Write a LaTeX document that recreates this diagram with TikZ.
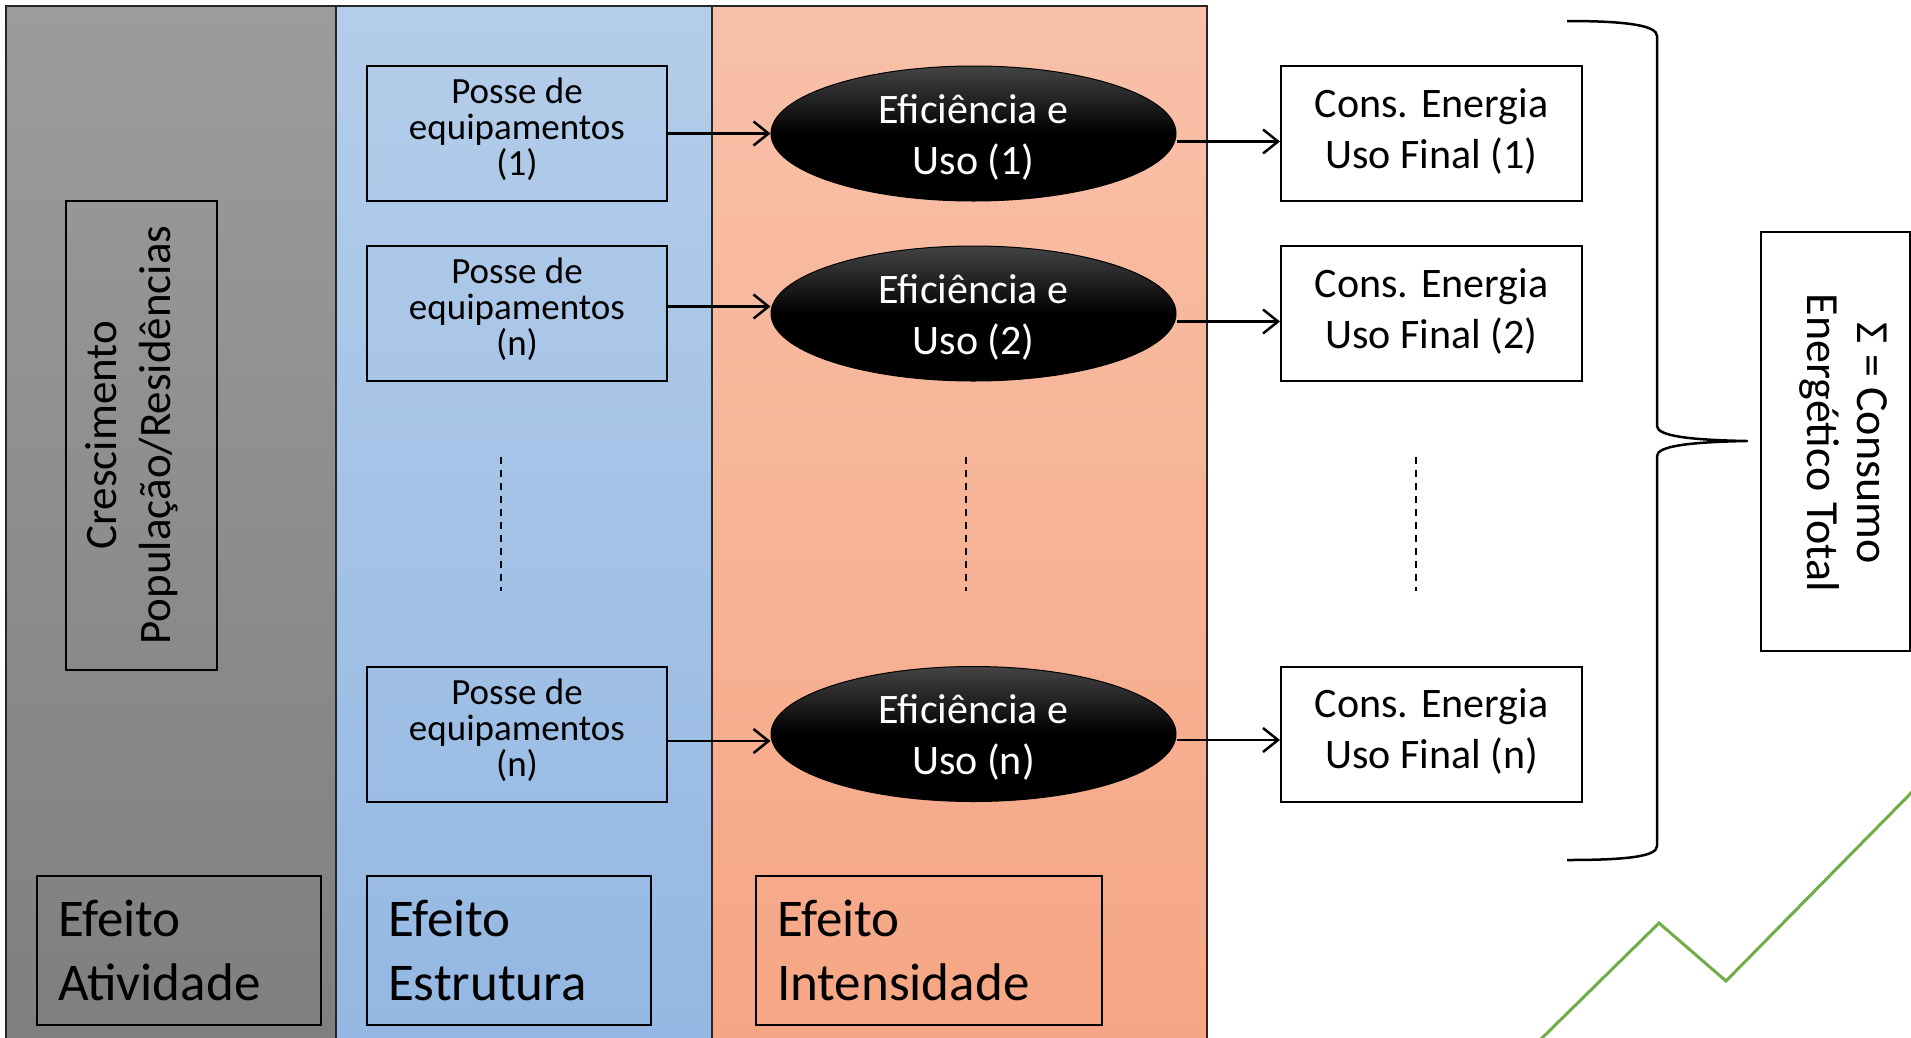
\documentclass[tikz,border=0pt]{standalone}
\usepackage{fontspec}
\setmainfont{Carlito}
\usetikzlibrary{arrows.meta,shapes.geometric}
\definecolor{grayTop}{RGB}{156,156,156}
\definecolor{grayBot}{RGB}{127,127,127}
\definecolor{blueTop}{RGB}{180,205,234}
\definecolor{blueBot}{RGB}{148,184,227}
\definecolor{oraTop}{RGB}{248,193,169}
\definecolor{oraBot}{RGB}{246,166,132}
\definecolor{effTop}{RGB}{68,68,68}
\definecolor{lineGreen}{RGB}{112,173,71}
\begin{document}
\begin{tikzpicture}[x=1pt,y=-1pt,
  panel/.style={line width=1.2pt, draw=black!85},
  box/.style={draw=black, line width=2pt, minimum width=300pt, minimum height=135pt, inner sep=0pt},
  posse/.style={box},
  cons/.style={box, minimum width=301pt, fill=white},
  eff/.style={ellipse, draw=black, line width=1pt, minimum width=405pt, minimum height=135pt, inner sep=0pt,
    top color=effTop, bottom color=black, middle color=black},
  txt/.style={inner sep=0pt, align=center},
  possetxt/.style={txt, font=\fontsize{37}{36}\selectfont},
  efftxt/.style={txt, text=white, font=\fontsize{42}{51}\selectfont},
  constxt/.style={txt, font=\fontsize{42}{51}\selectfont},
  conn/.style={line width=2.5pt, -{Straight Barb[length=15pt,width=24pt,line width=2.5pt]}},
  efeito/.style={draw=black, line width=2pt, minimum height=149pt, inner xsep=21pt, inner ysep=0pt,
    align=left, font=\fontsize{53}{64}\selectfont},
  dots/.style={line width=2.5pt, dash pattern=on 7pt off 6pt}
]
\useasboundingbox (0,0) rectangle (1911,1037);
\fill[white] (0,0) rectangle (1911,1037);

% panels
\shade[top color=grayTop, bottom color=grayBot] (6,6) rectangle (336,1037);
\shade[top color=blueTop, bottom color=blueBot] (336,6) rectangle (712,1037);
\shade[top color=oraTop, bottom color=oraBot] (712,6) rectangle (1207,1037);
\draw[panel] (6,1040) -- (6,6) -- (1207,6) -- (1207,1040);
\draw[panel] (336,6) -- (336,1040);
\draw[panel] (712,6) -- (712,1040);

% activity box
\node[draw=black, line width=2pt, minimum width=151pt, minimum height=469pt, inner sep=0pt] (cresc) at (141.5,435.5) {};
\node[txt, rotate=90, font=\fontsize{45}{54}\selectfont] (cresctxt) at (132,435) {Crescimento\\População/Residências};

% rows: shapes
\node[posse] (p1) at (517,133.5) {};
\node[posse] (p2) at (517,313.5) {};
\node[posse] (p3) at (517,734) {};
\node[eff] (e1) at (973.5,133.5) {};
\node[eff] (e2) at (973.5,313.5) {};
\node[eff] (e3) at (973.5,734) {};
\node[cons] (c1) at (1431.5,133.5) {};
\node[cons] (c2) at (1431.5,313.5) {};
\node[cons] (c3) at (1431.5,734) {};

% rows: texts
\node[possetxt] (p1t) at ([yshift=4pt]p1.center) {Posse de\\equipamentos\\(1)};
\node[possetxt] (p2t) at ([yshift=4pt]p2.center) {Posse de\\equipamentos\\(n)};
\node[possetxt] (p3t) at ([yshift=4pt]p3.center) {Posse de\\equipamentos\\(n)};
\node[efftxt] (e1t) at ([yshift=-3.5pt]e1.center) {Eficiência e\\Uso (1)};
\node[efftxt] (e2t) at ([yshift=-3.5pt]e2.center) {Eficiência e\\Uso (2)};
\node[efftxt] (e3t) at ([yshift=-3.5pt]e3.center) {Eficiência e\\Uso (n)};
\node[constxt] (c1t) at ([yshift=2.5pt]c1.center) {Cons. Energia\\Uso Final (1)};
\node[constxt] (c2t) at ([yshift=2.5pt]c2.center) {Cons. Energia\\Uso Final (2)};
\node[constxt] (c3t) at ([yshift=2.5pt]c3.center) {Cons. Energia\\Uso Final (n)};

% connectors
\draw[conn] (p1.east) -- (e1.west);
\draw[conn] ([yshift=7pt]p2.east) -- ([yshift=7pt]e2.west);
\draw[conn] ([yshift=-7pt]p3.east) -- ([yshift=-7pt]e3.west);
\draw[conn] ([yshift=-8pt]e1.east) -- ([yshift=-8pt]c1.west);
\draw[conn] ([yshift=-8pt]e2.east) -- ([yshift=-8pt]c2.west);
\draw[conn] ([yshift=-6pt]e3.east) -- ([yshift=-6pt]c3.west);

% dashed continuation lines
\coordinate (d1a) at (501,457); \coordinate (d1b) at (501,591);
\coordinate (d2a) at (966,457); \coordinate (d2b) at (966,591);
\coordinate (d3a) at (1416,457); \coordinate (d3b) at (1416,591);
\draw[dots] (d1a) -- (d1b);
\draw[dots] (d2a) -- (d2b);
\draw[dots] (d3a) -- (d3b);

% brace
\draw[line width=2.5pt, line join=round] (1567,21) .. controls (1630,21) and (1657,26) .. (1657,36)
  -- (1657,426) .. controls (1657,436) and (1690,440) .. (1747,441)
  .. controls (1690,442) and (1657,446) .. (1657,456)
  -- (1657,846) .. controls (1657,856) and (1630,860) .. (1567,860);

% total box
\node[draw=black, line width=2pt, minimum width=149pt, minimum height=419pt, inner sep=0pt] (total) at (1835.5,441.5) {};
\node[txt, rotate=-90, font=\fontsize{46}{50}\selectfont] (totaltxt) at (1843,443) {Σ = Consumo\\Energético Total};

% effect labels
\node[efeito, text width=242pt] (ef1) at (179,950.5) {Efeito\\Atividade};
\node[efeito, text width=242pt] (ef2) at (509,950.5) {Efeito\\Estrutura};
\node[efeito, text width=304pt] (ef3) at (929,950.5) {Efeito\\Intensidade};

% green trend line
\draw[lineGreen, line width=3pt] (1540,1040) -- (1659,923) -- (1726,981) -- (1914,790);
\end{tikzpicture}
\end{document}
